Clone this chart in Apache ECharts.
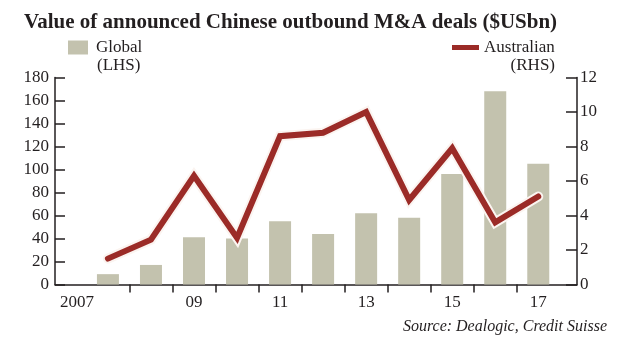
<!DOCTYPE html>
<html>
<head>
<meta charset="utf-8">
<script src="https://cdn.jsdelivr.net/npm/echarts@6/dist/echarts.min.js"></script>
<style>
  html, body { margin: 0; padding: 0; background: #ffffff; }
  #chart { width: 636px; height: 342px; }
</style>
</head>
<body>
<div id="chart"></div>
<script>
// Chinese outbound M&A deal value, $USbn
const years = [2007, 2008, 2009, 2010, 2011, 2012, 2013, 2014, 2015, 2016, 2017];
const globalDeals = [9, 17, 41, 40, 55, 44, 62, 58, 96, 168, 105];          // left axis
const australianDeals = [1.5, 2.6, 6.3, 2.7, 8.6, 8.8, 10.0, 4.9, 7.9, 3.6, 5.1]; // right axis

// x-axis labels (years shown) and their text
const xLabelYears = [2007, 2009, 2011, 2013, 2015, 2017];
const xLabelTexts = ['2007', '09', '11', '13', '15', '17'];

const serif = '"Liberation Serif", "DejaVu Serif", serif';
const ink = '#231f20';
const barColor = '#c3c2ae';
const lineColor = '#9b2b27';

// tick marks sit between neighbouring years
const yearBoundaries = years.slice(0, -1).map(y => y + 0.5);

const chart = echarts.init(document.getElementById('chart'), null, { renderer: 'canvas' });

chart.setOption({
  backgroundColor: '#ffffff',
  animation: false,
  title: {
    text: 'Value of announced Chinese outbound M&A deals ($USbn)',
    left: 24,
    top: 12,
    padding: 0,
    textStyle: { fontFamily: serif, fontWeight: 'bold', fontSize: 21, color: ink }
  },
  legend: [
    {
      data: ['Global'],
      left: 68,
      top: 39,
      padding: 0,
      icon: 'rect',
      itemWidth: 20,
      itemHeight: 14,
      selectedMode: false,
      textStyle: { fontFamily: serif, fontSize: 17, color: ink, padding: [0, 0, 0, 3] }
    },
    {
      data: ['Australian'],
      left: 452,
      top: 39,
      padding: 0,
      icon: 'rect',
      itemWidth: 27,
      itemHeight: 5,
      selectedMode: false,
      textStyle: { fontFamily: serif, fontSize: 17, color: ink }
    }
  ],
  graphic: [
    {
      type: 'text', left: 97, top: 57.5,
      style: { text: '(LHS)', font: '17px ' + serif, fill: ink }
    },
    {
      type: 'text', right: 81, top: 57.5,
      style: { text: '(RHS)', font: '17px ' + serif, fill: ink }
    },
    {
      type: 'text', right: 29, top: 318.5,
      style: { text: 'Source: Dealogic, Credit Suisse', font: 'italic 16px ' + serif, fill: ink }
    }
  ],
  grid: { left: 55, right: 59, top: 77.5, bottom: 57.5, containLabel: false },
  xAxis: {
    type: 'value',
    min: 2005.77,
    max: 2017.9,
    splitLine: { show: false },
    axisLine: { show: true, lineStyle: { color: ink, width: 1.5 } },
    axisTick: {
      show: true, inside: false, length: 8,
      customValues: yearBoundaries,
      lineStyle: { color: ink, width: 1.5 }
    },
    axisLabel: {
      customValues: xLabelYears,
      margin: 10,
      fontFamily: serif, fontSize: 17, color: ink,
      formatter: function (v) {
        const i = xLabelYears.indexOf(v);
        const t = i >= 0 ? xLabelTexts[i] : '';
        return i === 0 ? '{lead|' + t + '}' : t;
      },
      rich: {
        lead: { padding: [0, 62, 0, 0], fontFamily: serif, fontSize: 17, color: ink }
      }
    }
  },
  yAxis: [
    {
      type: 'value', position: 'left',
      min: 0, max: 180, interval: 20,
      splitLine: { show: false },
      axisLine: { show: true, lineStyle: { color: ink, width: 1.5 } },
      axisTick: { show: true, inside: true, length: 10, lineStyle: { color: ink, width: 1.5 } },
      axisLabel: { margin: 6, fontFamily: serif, fontSize: 17, color: ink, padding: [0, 0, 10, 0] }
    },
    {
      type: 'value', position: 'right',
      min: 0, max: 12, interval: 2,
      splitLine: { show: false },
      axisLine: { show: true, lineStyle: { color: ink, width: 1.5 } },
      axisTick: { show: true, inside: true, length: 11, lineStyle: { color: ink, width: 1.5 } },
      axisLabel: { margin: 3, fontFamily: serif, fontSize: 17, color: ink, padding: [0, 0, 10, 0] }
    }
  ],
  series: [
    {
      name: 'Global',
      type: 'bar',
      yAxisIndex: 0,
      barWidth: 22,
      itemStyle: { color: barColor },
      data: years.map((y, i) => [y, globalDeals[i]])
    },
    {
      // pale outline beneath the red line
      name: 'outline',
      type: 'line',
      yAxisIndex: 1,
      symbol: 'none',
      silent: true,
      lineStyle: { color: '#fbf4f0', width: 10, join: 'miter', cap: 'round' },
      data: years.map((y, i) => [y, australianDeals[i]])
    },
    {
      name: 'Australian',
      type: 'line',
      yAxisIndex: 1,
      symbol: 'none',
      itemStyle: { color: lineColor },
      lineStyle: { color: lineColor, width: 6, join: 'miter', cap: 'round' },
      data: years.map((y, i) => [y, australianDeals[i]])
    }
  ]
});
</script>
</body>
</html>
